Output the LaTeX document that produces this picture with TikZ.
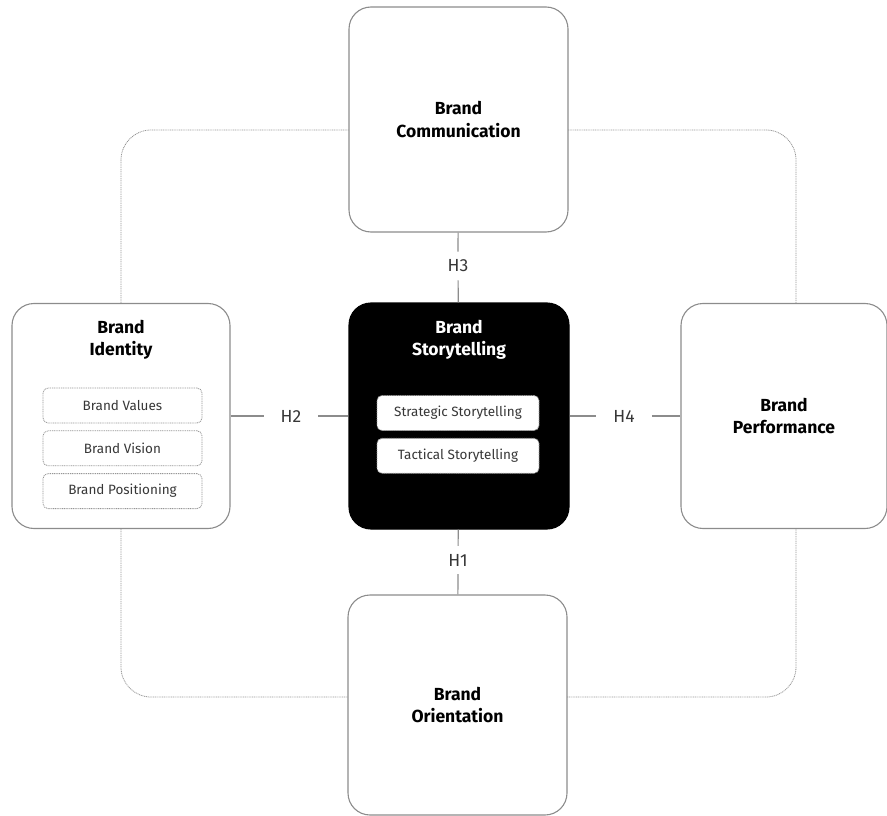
\documentclass[tikz,border=0pt]{standalone}
\usepackage{fontspec}
\setmainfont{Fira Sans}
\usepackage{tikz}
\usetikzlibrary{positioning}
\definecolor{lineGray}{RGB}{140,140,140}
\definecolor{dotGray}{RGB}{150,150,150}
\definecolor{labelGray}{RGB}{55,55,55}

\begin{document}
\begin{tikzpicture}[x=1pt,y=-1pt,
    construct/.style={draw=lineGray,line width=1.1pt,fill=white,rounded corners=22pt,
      align=center,font=\fontsize{17.5}{22.5}\selectfont\bfseries},
    title/.style={align=center,font=\fontsize{17.5}{22.5}\selectfont\bfseries},
    item/.style={draw=dotGray,line width=0.8pt,dash pattern=on 1pt off 0.8pt,rounded corners=5pt,
      minimum height=35pt,inner sep=0pt,font=\fontsize{13.5}{16}\selectfont,text=labelGray},
    hyp/.style={font=\fontsize{17.5}{20}\selectfont,text=labelGray,inner xsep=17pt,inner ysep=8pt},
    link/.style={draw=lineGray,line width=1.2pt}]
  \useasboundingbox (0,0) rectangle (887,816);
  % dotted frame behind the boxes
  \draw[dotGray,line width=0.8pt,dash pattern=on 1pt off 0.8pt,rounded corners=30pt]
    (121,130) rectangle (796,697);
  % outer constructs
  \node[construct,minimum width=219pt,minimum height=225pt] (comm) at (458.5,119.5) {Brand\\Communication};
  \node[construct,minimum width=218pt,minimum height=225pt] (ident) at (121,416) {};
  \node[construct,minimum width=206pt,minimum height=225pt] (perf) at (784,416) {Brand\\Performance};
  \node[construct,minimum width=219pt,minimum height=220pt] (orient) at (457.5,705) {Brand\\Orientation};
  % central construct
  \node[construct,fill=black,draw=black,minimum width=220pt,minimum height=226pt] (story) at (459,416) {};
  \node[title] (identTitle) at (121,340) {Brand\\Identity};
  \node[title,text=white] (storyTitle) at (459,340) {Brand\\Storytelling};
  % dimensions
  \node[item,minimum width=159pt] (values) at (122.5,405.5) {Brand Values};
  \node[item,minimum width=159pt,below=7pt of values] (vision) {Brand Vision};
  \node[item,minimum width=159pt,below=7pt of vision] (positioning) {Brand Positioning};
  \node[item,fill=white,minimum width=162pt] (strategic) at (458,413) {Strategic Storytelling};
  \node[item,fill=white,minimum width=162pt,below=7pt of strategic] (tactical) {Tactical Storytelling};
  % hypotheses
  \node[hyp] (h1) at (458,560) {H1};
  \node[hyp] (h2) at (291,416) {H2};
  \node[hyp] (h3) at (458,266) {H3};
  \node[hyp] (h4) at (624,416) {H4};
  \draw[link] (story) -- (h1) -- (orient);
  \draw[link] (ident) -- (h2) -- (story);
  \draw[link] (comm) -- (h3) -- (story);
  \draw[link] (story) -- (h4) -- (perf);
\end{tikzpicture}
\end{document}
